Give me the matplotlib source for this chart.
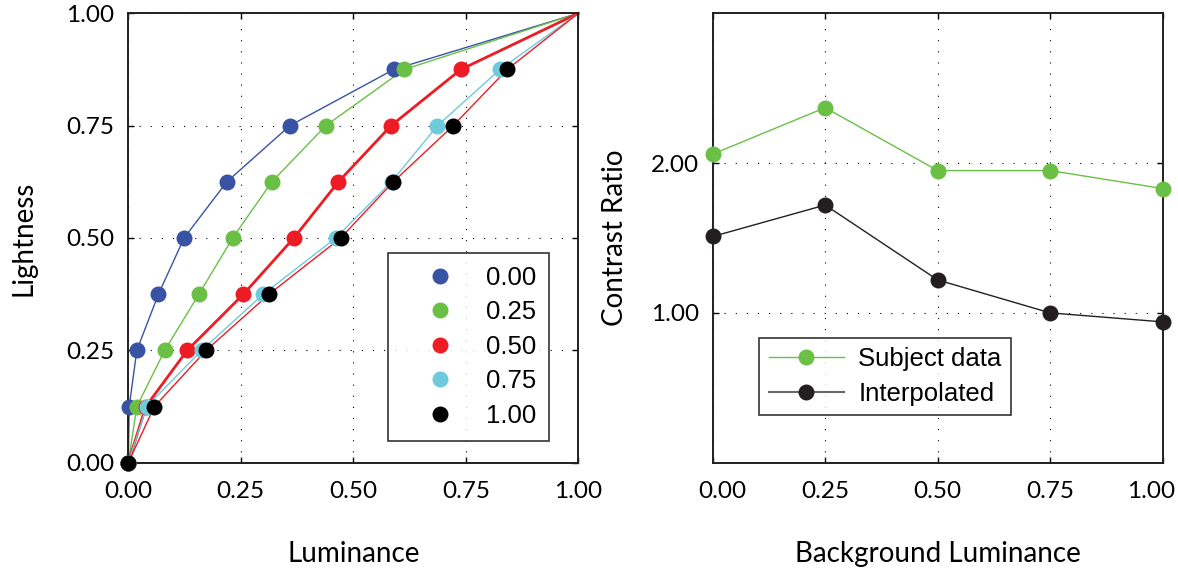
import matplotlib
matplotlib.use("Agg")
import matplotlib.pyplot as plt
from matplotlib.lines import Line2D
from matplotlib.transforms import ScaledTranslation

# Left panel: lightness vs luminance for each background luminance
lightness = [0.0, 0.125, 0.25, 0.375, 0.5, 0.625, 0.75, 0.875, 1.0]
lum_000 = [0.0, 0.002, 0.019, 0.067, 0.124, 0.219, 0.359, 0.590, 1.0]
lum_025 = [0.0, 0.019, 0.081, 0.157, 0.232, 0.319, 0.439, 0.613, 1.0]
lum_050 = [0.0, 0.039, 0.131, 0.256, 0.368, 0.467, 0.584, 0.739, 1.0]
lum_075 = [0.0, 0.041, 0.163, 0.300, 0.461, 0.585, 0.687, 0.826, 1.0]
lum_100 = [0.0, 0.058, 0.173, 0.313, 0.472, 0.589, 0.722, 0.842, 1.0]
bg_labels = ['0.00', '0.25', '0.50', '0.75', '1.00']

# Right panel: contrast ratio vs background luminance
bg_lum = [0.0, 0.25, 0.5, 0.75, 1.0]
subject_data = [2.06, 2.37, 1.95, 1.95, 1.83]
interpolated = [1.51, 1.72, 1.22, 1.00, 0.94]

tick_font = 'Lato'
legend_font = 'Liberation Sans'

fig = plt.figure(figsize=(11.78, 5.71), dpi=100)
ax1 = fig.add_axes([0.1089, 0.1897, 0.382, 0.787])
ax2 = fig.add_axes([0.605, 0.1897, 0.382, 0.787])

series = [lum_000, lum_025, lum_050, lum_075, lum_100]
marker_colors = ['#3953a4', '#6abf45', '#ed1c24', '#6dcbdc', '#000000']
line_colors = ['#3953a4', '#6abf45', '#ed1c24', '#6dcbdc', '#ed1c24']
line_widths = [1.0, 1.0, 2.0, 1.0, 1.0]

for xs, lc, lw in zip(series, line_colors, line_widths):
    ax1.plot(xs, lightness, color=lc, lw=lw, zorder=2, clip_on=False)
for xs, mc in zip(series, marker_colors):
    ax1.plot(xs[:-1], lightness[:-1], 'o', color=mc, ms=11.5, mec='none',
             zorder=3, clip_on=False)

handles1 = [Line2D([], [], ls='none', marker='o', color=c, ms=11.5, mec='none')
            for c in marker_colors]
leg1 = ax1.legend(handles1, bg_labels, loc='upper left',
                  bbox_to_anchor=(0.577, 0.4666), borderaxespad=0,
                  fancybox=False, frameon=True, edgecolor='black',
                  borderpad=0.5, handlelength=3.05, handletextpad=0.26,
                  labelspacing=0.41, prop={'family': legend_font, 'size': 18.5})
leg1.get_frame().set_linewidth(1.2)

ax2.plot(bg_lum, subject_data, '-o', color='#6abf45', lw=1.0, ms=11.5,
         mec='none', clip_on=False, zorder=3)
ax2.plot(bg_lum, interpolated, '-o', color='#231f20', lw=1.0, ms=11.5,
         mec='none', clip_on=False, zorder=3)
handles2 = [Line2D([], [], color='#6abf45', lw=1.0, marker='o', ms=11.5, mec='none'),
            Line2D([], [], color='#666666', lw=1.5, marker='o', ms=11.5,
                   mfc='#231f20', mec='none')]
leg2 = ax2.legend(handles2, ['Subject data', 'Interpolated'], loc='upper left',
                  bbox_to_anchor=(0.1036, 0.278), borderaxespad=0,
                  fancybox=False, frameon=True, edgecolor='black',
                  borderpad=0.36, handlelength=2.95, handletextpad=0.55,
                  labelspacing=0.43, prop={'family': legend_font, 'size': 18.5})
leg2.get_frame().set_linewidth(1.2)

ax1.set_xlim(0, 1)
ax1.set_ylim(0, 1)
ax1.set_xticks([0, 0.25, 0.5, 0.75, 1.0])
ax1.set_yticks([0, 0.25, 0.5, 0.75, 1.0])
ax1.set_xticklabels(['0.00', '0.25', '0.50', '0.75', '1.00'])
ax1.set_yticklabels(['0.00', '0.25', '0.50', '0.75', '1.00'])

ax2.set_xlim(0, 1)
ax2.set_ylim(0, 3)
ax2.set_xticks(bg_lum)
ax2.set_xticklabels(['0.00', '0.25', '0.50', '0.75', '1.00'])
ax2.set_yticks([1.0, 2.0])
ax2.set_yticklabels(['1.00', '2.00'])

for ax in (ax1, ax2):
    ax.grid(True, color='black', lw=0.8, linestyle=(0, (1, 9)))
    ax.tick_params(direction='in', length=4, width=1, top=True, right=True,
                   labelsize=17.5, pad=10, colors='black')
    ax.tick_params(axis='x', pad=13)
    for lab in ax.get_xticklabels() + ax.get_yticklabels():
        lab.set_family(tick_font)
    for sp in ax.spines.values():
        sp.set_linewidth(1.4)
        sp.set_color('#231f20')

# end labels of the right panel sit slightly inward
xlabs = ax2.get_xticklabels()
xlabs[0].set_transform(xlabs[0].get_transform() + ScaledTranslation(7 / 72, 0, fig.dpi_scale_trans))
xlabs[-1].set_transform(xlabs[-1].get_transform() + ScaledTranslation(-8 / 72, 0, fig.dpi_scale_trans))

ax1.set_xlabel('Luminance', family=tick_font, fontsize=20, va='center')
ax1.xaxis.set_label_coords(0.5, -0.203)
ax1.set_ylabel('Lightness', family=tick_font, fontsize=20, va='center', ha='center')
ax1.yaxis.set_label_coords(-0.232, 0.5)

ax2.set_xlabel('Background Luminance', family=tick_font, fontsize=20, va='center')
ax2.xaxis.set_label_coords(0.5, -0.203)
ax2.set_ylabel('Contrast Ratio', family=tick_font, fontsize=20, va='center', ha='center')
ax2.yaxis.set_label_coords(-0.217, 0.5)

fig.savefig('out.png', dpi=100)
